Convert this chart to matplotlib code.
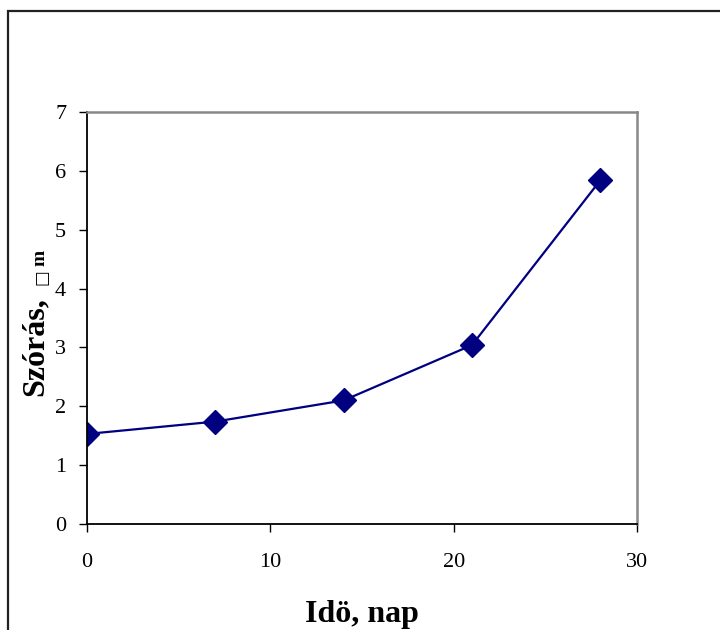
import matplotlib.pyplot as plt
from matplotlib.patches import Rectangle

# data
days = [0, 7, 14, 21, 28]
spread = [1.53, 1.74, 2.1, 3.04, 5.84]
x_ticks = [0, 10, 20, 30]
y_ticks = [0, 1, 2, 3, 4, 5, 6, 7]

plt.rcParams['font.family'] = ['Liberation Serif', 'DejaVu Serif']

W, H = 720, 630
fig = plt.figure(figsize=(7.2, 6.3), dpi=100)

# outer chart border (runs off the right and bottom edge)
fig.patches.append(Rectangle((8 / W, -0.1), 1.2, 1 - 11 / H + 0.1, transform=fig.transFigure,
                             fill=False, edgecolor='#222222', linewidth=1.6))

ax = fig.add_axes([87 / W, (H - 524) / H, 550 / W, 412 / H])
ax.plot(days, spread, color='#000080', linewidth=1.6, marker='D', markersize=12,
        markerfacecolor='#000080', markeredgecolor='#000080')

ax.set_xlim(0, 30)
ax.set_ylim(0, 7)
ax.set_xticks(x_ticks)
ax.set_yticks(y_ticks)
ax.tick_params(axis='both', direction='out', length=6, width=1, labelsize=16, colors='black')
ax.tick_params(axis='x', pad=15)
ax.tick_params(axis='y', pad=9)

for s in ['left', 'bottom']:
    ax.spines[s].set_color('black')
    ax.spines[s].set_linewidth(1.3)
for s in ['top', 'right']:
    ax.spines[s].set_color('#888888')
    ax.spines[s].set_linewidth(1.8)

ax.set_xlabel('Idö, nap', fontsize=23, fontweight='bold', labelpad=20)

# y label: "Szórás," plus the missing-glyph box and m
fig.text(35 / W, 1 - 347 / H, 'Szórás,', rotation=90, fontsize=23, fontweight='bold',
         ha='center', va='center')
fig.text(41 / W, 1 - 277 / H, '\u25a1', rotation=90, fontsize=12,
         family=['DejaVu Sans'], ha='center', va='center')
fig.text(40 / W, 1 - 258 / H, 'm', rotation=90, fontsize=14, fontweight='bold',
         ha='center', va='center')

plt.savefig('out.png', dpi=100)
